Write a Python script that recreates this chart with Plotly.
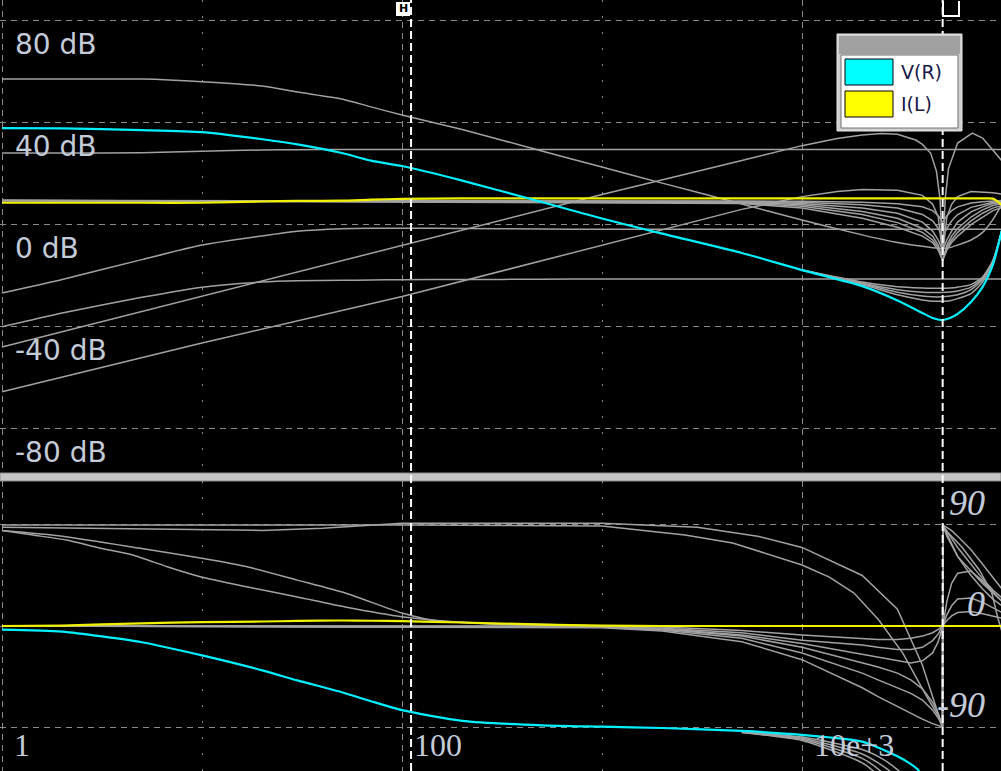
import math
import plotly.graph_objects as go

# ---------------- data ----------------
# magnitude panel, dB
F_MAIN = [1, 2, 5, 10, 20, 30, 50, 70, 100, 200, 500, 1000, 2000, 5000, 10000,
          20000, 30000, 40000, 45000, 50000, 55000, 60000, 70000, 80000, 90000, 100000]
VR_MAG = [37.9, 37.8, 37.1, 36.3, 33.5, 31.5, 28.1, 25.1, 23.0, 17.3, 8.9, 2.4, -3.5, -11.1, -17.8,
          -24.1, -29.7, -34.6, -36.6, -37.4, -36.6, -35.0, -30.3, -24.4, -15.8, -2.1]
IL_MAG = [8.6, 8.6, 8.6, 8.6, 9.1, 9.3, 9.4, 9.8, 10.1, 10.3, 10.3, 10.3, 10.3, 10.3, 10.3,
          10.3, 10.3, 10.3, 10.3, 10.3, 10.3, 10.3, 10.3, 10.3, 10.2, 7.7]
A_MAG = [57.1, 57.1, 57.1, 56.1, 54.4, 52.0, 49.3, 46.2, 43.0, 37.3, 28.9, 22.6, 16.3, 8.1, 1.8,
         -4.0, -7.0, -8.5, -9.0, -9.3, -9.0, -8.0, -6.0, -3.0, 2.0, 8.0]
B_MAG = [28.1, 28.1, 28.2, 28.8, 29.3, 29.4, 29.5, 29.5, 29.5, 29.5, 29.5, 29.5, 29.5, 29.5, 29.5,
         29.5, 29.5, 29.5, 29.5, 29.5, 29.5, 29.5, 29.5, 29.5, 29.5, 29.5]
HA_MAG = [-26.8, -21.5, -13.7, -8.0, -4.4, -2.6, -1.6, -1.4, -1.4, -1.5, -1.7, -1.8, -1.8, -1.8, -1.8,
          -1.8, -1.8, -1.8, -1.8, -1.8, -1.8, -1.8, -1.8, -1.8, -1.8, -1.8]
HB_MAG = [-40.0, -34.6, -28.5, -24.5, -22.5, -22.0, -21.8, -21.7, -21.6, -21.5, -21.4, -21.3, -21.3, -21.3, -21.3,
          -21.3, -21.3, -21.3, -21.3, -21.3, -21.3, -21.3, -21.3, -21.3, -21.3, -21.3]

F_C = [1, 10, 100, 1000, 5000, 10000, 15000, 20000, 25000, 30000, 37000, 40000, 44000, 47000,
       49000, 50500, 52000, 54000, 60000, 71000, 80000, 92000, 100000]
C_MAG = [-48.0, -28.0, -8.1, 11.8, 25.2, 31.0, 33.8, 35.2, 35.8, 35.5, 33.2, 31.5, 28.0, 21.0,
         10.0, -12.0, 10.0, 22.0, 32.0, 35.9, 34.0, 28.5, 25.0]
F_D = [1, 10, 100, 1000, 5000, 10000, 15000, 20000, 30000, 40000, 45000, 48000, 50500,
       53000, 56000, 60000, 70000, 90000, 100000]
D_MAG = [-65.5, -46.4, -28.2, -8.0, 6.0, 11.0, 13.0, 13.8, 13.5, 11.5, 8.0, 3.0, -12.0,
         3.0, 8.0, 11.0, 13.0, 12.5, 12.0]

# notch family (stepped traces)
F_N = [1, 5000, 10000, 20000, 30000, 40000, 45000, 48000, 50500, 53000, 56000, 60000,
       70000, 80000, 90000, 100000]
N_MAG = [
    [9.5, 9.4, 9.2, 8.8, 8.2, 7.0, 5.5, 3.5, 1.0, 3.5, 5.5, 7.0, 8.5, 9.0, 9.3, 9.5],
    [9.5, 9.2, 8.8, 7.8, 6.5, 4.0, 1.5, -1.5, -5.0, -1.5, 1.5, 4.0, 6.8, 8.0, 8.8, 9.2],
    [9.5, 9.0, 8.3, 6.5, 4.5, 1.0, -2.5, -6.0, -10.0, -6.0, -2.5, 1.0, 5.0, 7.0, 8.3, 8.8],
    [9.5, 8.8, 7.8, 5.2, 2.5, -1.5, -4.5, -8.0, -14.0, -8.0, -4.5, -1.5, 3.0, 5.8, 7.5, 8.3],
    [9.5, 8.6, 7.2, 4.0, 0.8, -3.0, -6.0, -9.0, -14.0, -9.0, -6.0, -3.0, 1.5, 4.5, 6.5, 7.5],
    [9.5, 8.3, 6.5, 2.5, -1.0, -4.5, -7.0, -10.0, -14.0, -10.0, -7.0, -4.5, 0.0, 3.0, 5.5, 6.8],
]
# V(R) stepped variants near resonance
F_V = [10000, 20000, 30000, 40000, 45000, 50000, 55000, 60000, 70000, 80000, 90000, 100000]
V_MAG = [
    [-17.8, -23.5, -27.5, -29.5, -30.0, -30.0, -29.8, -29.0, -27.0, -22.5, -15.0, -2.0],
    [-17.8, -23.2, -26.5, -28.0, -28.3, -28.3, -28.0, -27.5, -25.5, -21.5, -14.5, -2.0],
    [-17.8, -23.0, -25.5, -26.5, -26.6, -26.6, -26.4, -26.0, -24.5, -21.0, -14.5, -2.0],
    [-17.8, -22.5, -24.3, -24.8, -24.9, -24.9, -24.8, -24.5, -23.5, -20.5, -14.0, -2.0],
]

# phase panel, degrees
F_PH = [1, 2, 5, 10, 20, 30, 50, 70, 100, 200, 500, 1000, 2000, 5000, 10000, 20000,
        30000, 35000, 38000, 40000]
VR_PH = [-3.2, -5.0, -14.5, -26.2, -39.5, -48.5, -59.0, -67.0, -75.0, -84.5, -88.5, -89.7,
         -90.9, -93.5, -97.0, -103.0, -116.0, -123.0, -128.0, -135.0]
F_YP = [1, 2, 5, 10, 20, 30, 50, 70, 100, 200, 500, 1000, 2000, 100000]
IL_PH = [0.0, 0.4, 2.4, 3.5, 4.0, 4.5, 4.9, 4.7, 4.4, 3.1, 1.3, 0.4, 0.0, 0.0]
F_P1 = [1, 100, 1000, 1480, 2600, 4500, 7900, 10000, 13700, 18200, 24200, 31900, 42200,
        48000, 50400, 50600, 63000, 77000, 89000, 95000, 100000]
P1_PH = [90, 90, 89, 85.5, 81.1, 74.0, 60.6, 54.4, 43.6, 29.4, 5.3, -24.1, -63.3,
         -80, -90, 88, 70.4, 49.9, 29.4, 8.0, -5.0]
F_P2 = [1, 10, 20, 40, 60, 100, 1000, 3000, 6000, 10000, 20000, 30000, 40000, 50400,
        50600, 60000, 80000, 100000]
P2_PH = [88.0, 85.5, 85.2, 87.0, 89.0, 91.5, 91.5, 88.0, 80.0, 70.0, 45.0, 15.0, -35.0, -90.0,
         90.0, 62.0, 38.0, 22.0]
F_HP = [1, 2, 5, 10, 17, 30, 52, 100, 142, 200, 300, 500, 1000, 100000]
HA_PH = [85.0, 80.0, 69.0, 60.3, 52.6, 40.9, 29.4, 11.6, 5.3, 3.5, 1.5, 0.5, 0.0, 0.0]
F_HQ = [1, 1.43, 2.1, 3.1, 4.5, 6.7, 9.8, 17, 30, 52, 102, 210, 455, 1000, 100000]
HB_PH = [85.0, 81.0, 76.6, 69.3, 63.3, 52.8, 43.9, 34.7, 25.8, 16.9, 8.0, 2.7, 1.8, 0.0, 0.0]

F_FAN = [1, 1000, 2000, 5000, 10000, 20000, 24000, 30000, 35000, 40000, 45000, 48000, 50400,
         50600, 53000, 56000, 60000, 70000, 80000, 90000, 100000]
FAN_PH = [
    [0, 0, -1, -4, -8, -11, -12, -12, -11, -9, -6, -3, 0, 0, 5, 9, 12, 13, 11, 9, 7],
    [0, -0.5, -2, -6, -12.7, -17, -19, -21, -21, -19, -13, -7, 0, 0, 10, 18, 24, 25, 21, 16, 12],
    [0, -0.7, -2.5, -8, -15.5, -25, -27.6, -31, -33, -31, -24, -14, 0, 0, 22, 38, 47, 49, 40, 30, 22],
    [0, -1, -3, -9, -19, -33, -36.5, -42, -48, -56, -68, -78, -90, 90, 80, 72, 62, 45, 33, 24, 18],
    [0, -1.2, -3.5, -11, -24, -42, -48, -55, -60, -66, -75, -82, -90, 90, 84, 78, 70, 55, 42, 32, 25],
    [0, -1.5, -4.5, -14, -30, -55, -63, -72, -78, -83, -87, -89, -90, 90, 88, 85, 80, 68, 55, 43, 33],
]
F_VP = [5000, 10000, 20000, 25000, 30000, 35000, 40000]
V_PH = [
    [-94.0, -99.0, -110.0, -118.0, -128.0, -140.0, -150.0],
    [-94.5, -100.0, -114.0, -124.0, -135.0, -150.0, -160.0],
    [-95.0, -101.0, -118.0, -130.0, -145.0, -160.0, -170.0],
    [-95.0, -102.0, -122.0, -136.0, -152.0, -170.0, -180.0],
]

DB_TICKS = [80, 40, 0, -40, -80]
DB_LABELS = ["80 dB", "40 dB", "0 dB", "-40 dB", "-80 dB"]
PH_TICKS = [90, 0, -90]
PH_LABELS = ["90", "0", "-90"]
X_MAJOR = [1, 100, 10000]
X_LABELS = ["1", "100", "10e+3"]
X_MINOR = [10, 1000]
CURSORS = [111, 50500]

# ---------------- figure ----------------
W, H = 1001, 771
GRAY = "#a2a2a2"
CYAN = "#00f0ff"
YEL = "#f0f000"
GRID = "#8a8a8a"
GW = 1.5

fig = go.Figure()


def add(xs, ys, color, width, ax, shape="spline", name=None):
    fig.add_trace(go.Scatter(
        x=xs, y=ys, mode="lines", name=name,
        line=dict(color=color, width=width, shape=shape, smoothing=0.6),
        xaxis="x" if ax == 1 else "x2", yaxis="y" if ax == 1 else "y2",
        hoverinfo="skip", showlegend=False))


# magnitude - gray traces
add(F_MAIN, A_MAG, GRAY, GW, 1)
add(F_MAIN, B_MAG, GRAY, GW, 1)
add(F_MAIN, HA_MAG, GRAY, GW, 1)
add(F_MAIN, HB_MAG, GRAY, GW, 1)
add(F_C, C_MAG, GRAY, GW, 1, "linear")
add(F_D, D_MAG, GRAY, GW, 1, "linear")
for n in N_MAG:
    add(F_N, n, GRAY, GW, 1, "linear")
for v in V_MAG:
    add(F_V, v, GRAY, GW, 1)
# phase - gray traces
add(F_P1, P1_PH, GRAY, GW, 2, "linear")
add(F_P2, P2_PH, GRAY, GW, 2, "linear")
add(F_HP, HA_PH, GRAY, GW, 2)
add(F_HQ, HB_PH, GRAY, GW, 2)
for p in FAN_PH:
    add(F_FAN, p, GRAY, GW, 2, "linear")
for p in V_PH:
    add(F_VP, p, GRAY, GW, 2)
# highlighted traces
add(F_MAIN, IL_MAG, YEL, 2.2, 1, name="I(L)")
add(F_YP, IL_PH, YEL, 2.2, 2, name="I(L)")
add(F_MAIN, VR_MAG, CYAN, 2.2, 1, name="V(R)")
add(F_PH, VR_PH, CYAN, 2.2, 2, name="V(R)")

TOP_BOT = 473
BOT_TOP = 481
y1_top = 88.12
y1_bot = 88.12 - 0.3922 * TOP_BOT
ph_lim = 129.2

xcommon = dict(type="log", range=[-0.01, 4.995], showticklabels=False, ticks="",
               tickvals=X_MAJOR, showgrid=True, gridcolor=GRID, gridwidth=1,
               griddash="6px,5px", zeroline=False, showline=False,
               minor=dict(tickvals=X_MINOR, showgrid=True, gridcolor=GRID,
                          gridwidth=1, griddash="2px,14px", ticks=""))

fig.update_layout(
    width=W, height=H, margin=dict(l=0, r=0, t=0, b=0),
    paper_bgcolor="black", plot_bgcolor="black", showlegend=False,
    xaxis=dict(domain=[0, 1], anchor="y", **xcommon),
    xaxis2=dict(domain=[0, 1], anchor="y2", matches="x", **xcommon),
    yaxis=dict(domain=[1 - TOP_BOT / H, 1], range=[y1_bot, y1_top], tickvals=DB_TICKS,
               showticklabels=False, ticks="", showgrid=True, gridcolor=GRID,
               griddash="6px,5px", zeroline=False, showline=False),
    yaxis2=dict(domain=[0, 1 - BOT_TOP / H], range=[-ph_lim, ph_lim], tickvals=PH_TICKS,
                showticklabels=False, ticks="", showgrid=True, gridcolor=GRID,
                griddash="6px,5px", zeroline=False, showline=False),
)

LBL = "#c4cbd8"
ann = []
for v, t in zip(DB_TICKS, DB_LABELS):
    ann.append(dict(x=0, xref="paper", y=v, yref="y", text=t, showarrow=False,
                    xanchor="left", yanchor="middle", xshift=13, yshift=-24,
                    font=dict(family="DejaVu Sans", size=28, color=LBL)))
for v, t in zip(PH_TICKS, PH_LABELS):
    ann.append(dict(x=987 / W, xref="paper", y=v, yref="y2", text="<i>%s</i>" % t,
                    showarrow=False, xanchor="right", yanchor="middle", yshift=22,
                    font=dict(family="Liberation Serif", size=36, color=LBL)))
for f, t in zip(X_MAJOR, X_LABELS):
    ann.append(dict(x=math.log10(f), xref="x2", y=-90, yref="y2", text=t, showarrow=False,
                    xanchor="left", yanchor="middle", xshift=10, yshift=-18,
                    font=dict(family="Liberation Serif", size=32, color=LBL)))


def px(x):
    return x / W


def py(y):
    return 1 - y / H


shapes = []
# separator bar
shapes.append(dict(type="rect", xref="paper", yref="paper", x0=0, x1=1,
                   y0=py(481), y1=py(473), fillcolor="#c4c4c4",
                   line=dict(color="#8c8c8c", width=1), layer="above"))
# cursors (shape x on a log axis is given in data units here)
for f in CURSORS:
    shapes.append(dict(type="line", xref="x", yref="paper", x0=f, x1=f, y0=0, y1=1,
                       line=dict(color="white", width=2, dash="8px,4px"), layer="above"))
# cursor 2 marker (U)
shapes.append(dict(type="path", xref="paper", yref="paper",
                   path="M %f %f L %f %f L %f %f L %f %f" % (
                       px(943), py(1), px(943), py(16), px(959), py(16), px(959), py(1)),
                   line=dict(color="white", width=2), layer="above"))
# cursor 1 marker (white box with H)
shapes.append(dict(type="rect", xref="paper", yref="paper", x0=px(396), x1=px(410),
                   y0=py(16), y1=py(2), fillcolor="white", line=dict(width=0), layer="above"))
ann.append(dict(x=px(403), xref="paper", y=py(9), yref="paper", text="<b>H</b>",
                showarrow=False, font=dict(family="DejaVu Sans", size=11, color="black"),
                xanchor="center", yanchor="middle", borderpad=0))

# legend box
shapes.append(dict(type="rect", xref="paper", yref="paper", x0=px(837), x1=px(962),
                   y0=py(131), y1=py(34), fillcolor="#d0d0d0",
                   line=dict(color="#e8e8e8", width=1), layer="above"))
shapes.append(dict(type="rect", xref="paper", yref="paper", x0=px(839), x1=px(960),
                   y0=py(54), y1=py(36), fillcolor="#a0a0a0",
                   line=dict(width=0), layer="above"))
shapes.append(dict(type="rect", xref="paper", yref="paper", x0=px(841), x1=px(958),
                   y0=py(128), y1=py(55), fillcolor="white",
                   line=dict(color="#707070", width=1), layer="above"))
shapes.append(dict(type="rect", xref="paper", yref="paper", x0=px(845), x1=px(893),
                   y0=py(85), y1=py(59), fillcolor="#00ffff",
                   line=dict(color="black", width=1), layer="above"))
shapes.append(dict(type="rect", xref="paper", yref="paper", x0=px(845), x1=px(893),
                   y0=py(117), y1=py(91), fillcolor="#ffff00",
                   line=dict(color="black", width=1), layer="above"))
for t, yy in (("V(R)", 72), ("I(L)", 104)):
    ann.append(dict(x=px(899), xref="paper", y=py(yy), yref="paper", text=t,
                    showarrow=False, xanchor="left", yanchor="middle",
                    font=dict(family="DejaVu Sans", size=19, color="#18184a")))

fig.update_layout(shapes=shapes, annotations=ann)
fig.write_html("out.html", config={"displayModeBar": False},
               post_script="document.body.style.margin='0';document.body.style.overflow='hidden';")
